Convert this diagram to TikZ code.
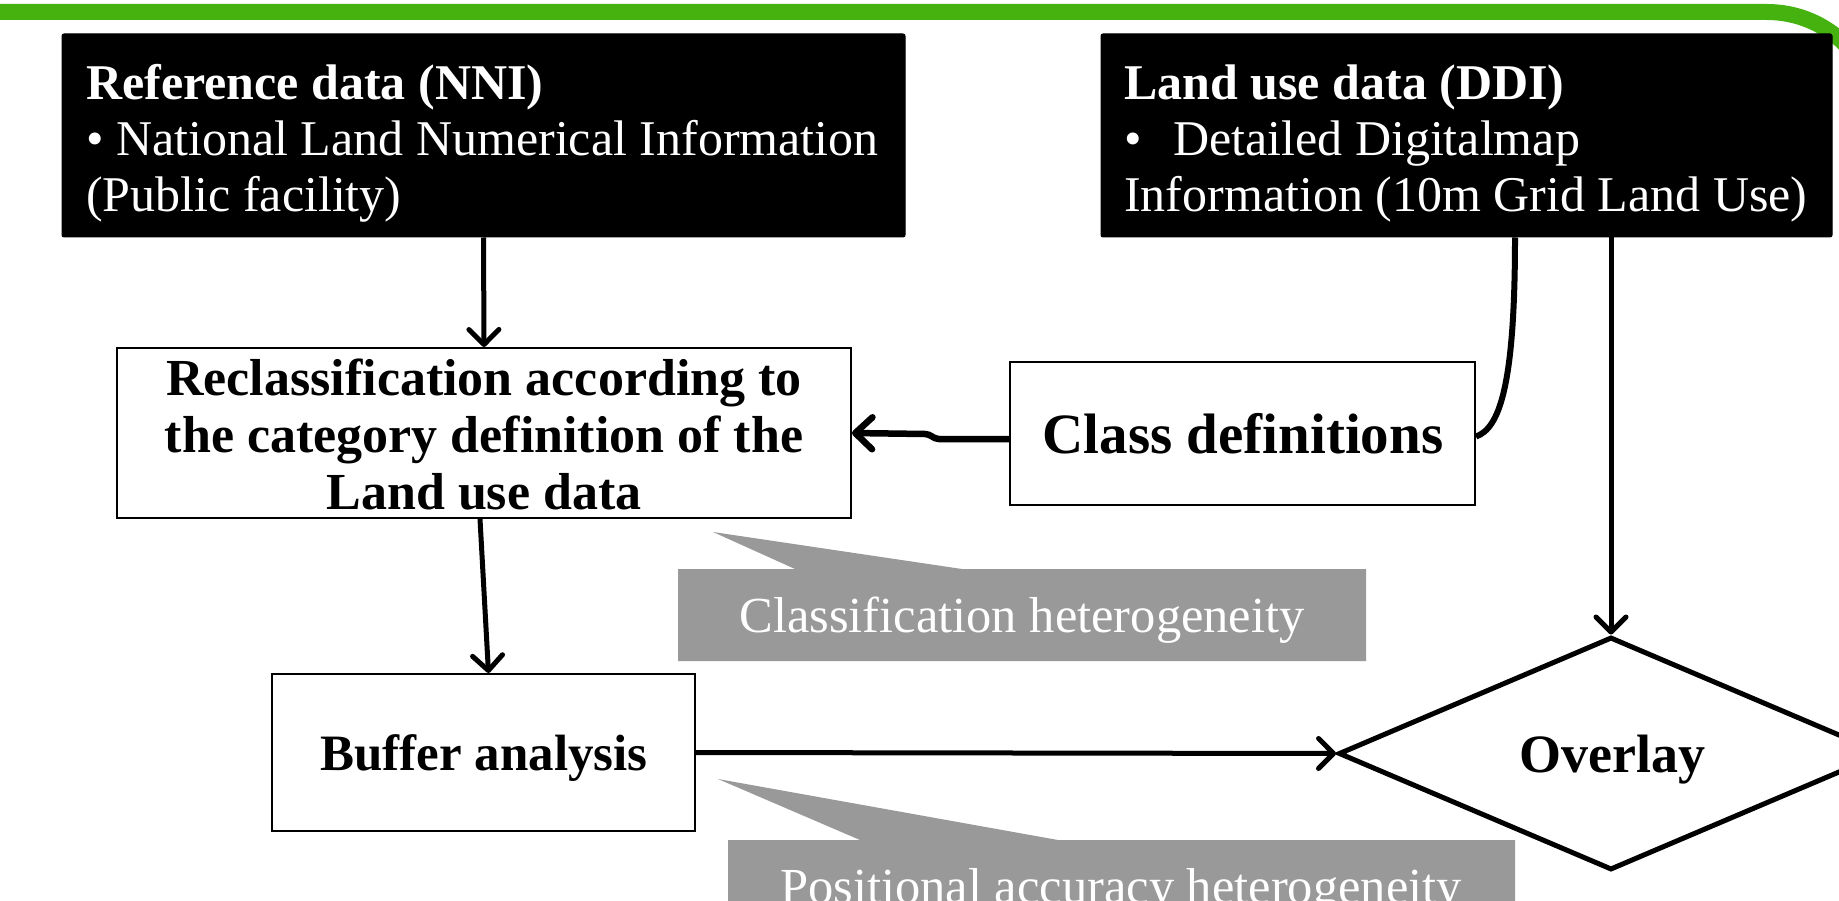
\documentclass[tikz,border=0pt]{standalone}
\usepackage{fontspec}
\setmainfont{Liberation Serif}
\usetikzlibrary{arrows.meta,shapes.geometric}
\definecolor{bargreen}{HTML}{46B20F}
\definecolor{calloutgray}{HTML}{999999}
\tikzset{
  blackbox/.style={fill=black, draw=black, line width=1pt, rounded corners=2pt, inner sep=0pt},
  whitebox/.style={fill=white, draw=black, line width=2pt, inner sep=0pt},
  wtext/.style={text=white, font=\fontsize{50}{56}\selectfont, inner sep=0pt, anchor=base west},
  btext/.style={text=black, font=\bfseries\fontsize{52}{57}\selectfont, inner sep=0pt, anchor=base},
  calltext/.style={text=white, font=\fontsize{50.5}{56}\selectfont, inner sep=0pt, anchor=base},
  callout/.style={fill=calloutgray, draw=none},
  flowarrow/.style={line width=5pt, -{Straight Barb[length=15pt,width=30pt,round]}},
  thickarrow/.style={line width=6.5pt, -{Straight Barb[length=17pt,width=32pt,round]}},
  thickline/.style={line width=6pt},
}
\begin{document}
\begin{tikzpicture}[x=1pt,y=-1pt]
\useasboundingbox (0,0) rectangle (1839,901);
\clip (0,0) rectangle (1839,901);

% green band
\draw[bargreen, line width=16pt] (-20,12) -- (1767,12) .. controls (1828,12) and (1877,61) .. (1877,122);

% black data boxes
\node[blackbox, minimum width=843pt, minimum height=203pt] (nni) at (483.5,135.5) {};
\node[wtext] (nni1) at (86,100) {\bfseries Reference data (NNI)};
\node[wtext] (nni2) at (86,156) {• National Land Numerical Information};
\node[wtext] (nni3) at (86,212) {(Public facility)};

\node[blackbox, minimum width=731pt, minimum height=203pt] (ddi) at (1466.5,135.5) {};
\node[wtext] (ddi1) at (1124,100) {\bfseries Land use data (DDI)};
\node[wtext] (ddi2) at (1124,156) {\makebox[49pt][l]{•}Detailed Digitalmap};
\node[wtext] (ddi3) at (1124,212) {Information (10m Grid Land Use)};

% callouts
\path[callout] (678,569) -- (795,569) -- (713,532) -- (962,569) -- (1366,569)
  -- (1366,661) -- (678,661) -- cycle;
\node[calltext] (ch) at (1022,632) {Classification heterogeneity};
\path[callout] (728,840) -- (860,840) -- (718,779) -- (1058,840) -- (1515,840)
  -- (1515,920) -- (728,920) -- cycle;
\node[calltext] (ph) at (1121,903) {Positional accuracy heterogeneity};

% process boxes
\node[whitebox, minimum width=734pt, minimum height=170pt] (rc) at (484,433) {};
\node[btext] (rc1) at (484,395) {Reclassification according to};
\node[btext] (rc2) at (484,452) {the category definition of the};
\node[btext] (rc3) at (484,509) {Land use data};

\node[whitebox, minimum width=465pt, minimum height=143pt] (cd) at (1242.5,433.5) {};
\node[btext, font=\bfseries\fontsize{57}{60}\selectfont] (cdt) at (1243,453) {Class definitions};

\node[whitebox, minimum width=423pt, minimum height=157pt] (buf) at (483.5,752.5) {};
\node[btext, font=\bfseries\fontsize{51}{56}\selectfont] (buft) at (484,770) {Buffer analysis};

\node[diamond, draw=black, fill=white, line width=5pt, inner sep=0pt,
      minimum width=545pt, minimum height=233pt] (ov) at (1611,753.5) {};
\node[btext, font=\bfseries\fontsize{54}{58}\selectfont] (ovt) at (1612,772) {Overlay};

% connectors
\draw[flowarrow] (nni.south) -- (rc.north);
\draw[flowarrow] ([xshift=-4pt]rc.south) -- ([xshift=5pt]buf.north);
\draw[flowarrow] (buf.east) -- (ov.west);
\draw[flowarrow] (ddi.south -| ov.north) -- (ov.north);
\draw[thickline] ([xshift=48.5pt]ddi.south) .. controls +(0,150) and +(23,-8) .. ([yshift=-3pt]cd.east);
\draw[thickarrow] ([yshift=-5.5pt]cd.west) -- ++(-70,0) .. controls +(-6,0) and +(6,0) .. ++(-14,-5) -- (rc.east);
\end{tikzpicture}
\end{document}
